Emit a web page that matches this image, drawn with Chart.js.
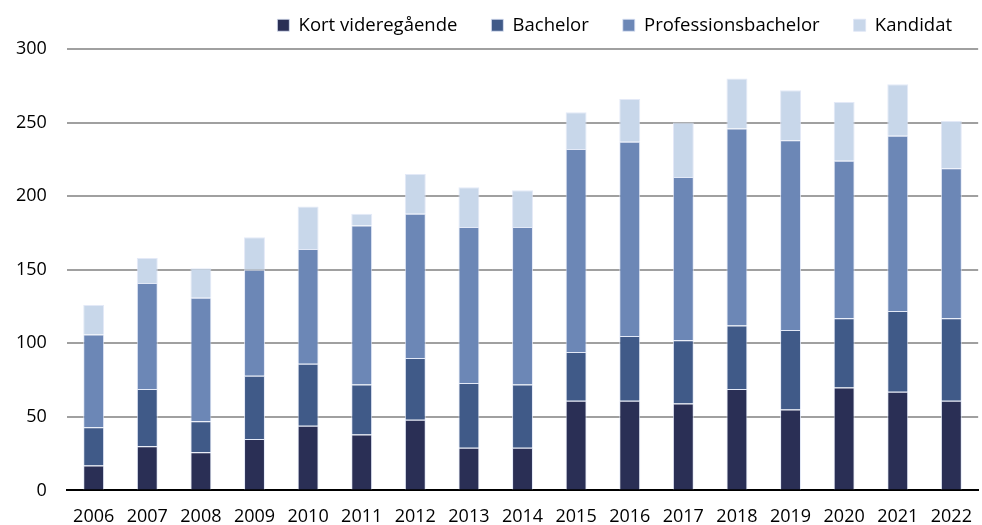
<!DOCTYPE html>
<html>
<head>
<meta charset="utf-8">
<script src="https://cdn.jsdelivr.net/npm/chart.js@4/dist/chart.umd.min.js"></script>
<style>
  html, body { margin: 0; padding: 0; background: #fff; overflow: hidden; }
  #wrap { position: relative; width: 988px; height: 547px; }
</style>
</head>
<body>
<div id="wrap"><canvas id="uddannelse"></canvas></div>
<script>
const years = ["2006","2007","2008","2009","2010","2011","2012","2013","2014","2015","2016","2017","2018","2019","2020","2021","2022"];
const kortVideregaaende = [17, 30, 26, 35, 44, 38, 48, 29, 29, 61, 61, 59, 69, 55, 70, 67, 61];
const bachelor = [26, 39, 21, 43, 42, 34, 42, 44, 43, 33, 44, 43, 43, 54, 47, 55, 56];
const professionsbachelor = [63, 72, 84, 72, 78, 108, 98, 106, 107, 138, 132, 111, 134, 129, 107, 119, 102];
const kandidat = [20, 17, 20, 22, 29, 8, 27, 27, 25, 25, 29, 37, 34, 34, 40, 35, 32];
const yTicks = [0, 50, 100, 150, 200, 250, 300];

const ctx = document.getElementById("uddannelse");

Chart.defaults.font.family = "'Open Sans', sans-serif";
Chart.defaults.font.size = 18;
Chart.defaults.color = "#000";

function serie(label, data, color) {
    return {
        label: label,
        data: data,
        backgroundColor: color,
        borderColor: "rgba(220, 228, 245, 0.8)",
        borderWidth: 1,
        barPercentage: 0.39,
        categoryPercentage: 1.0,
    };
}

// legenden skal ikke fylde så meget i højden
const legendHeight = {
    id: "legendHeight",
    beforeInit(chart) {
        const fit = chart.legend.fit;
        chart.legend.fit = function () {
            fit.bind(chart.legend)();
            this.height = 67;
        };
    },
};

var myChart = new Chart(ctx, {
    type: "bar",
    data: {
        labels: years,
        datasets: [
            serie("Kort videregående", kortVideregaaende, "#2a2f55"),
            serie("Bachelor", bachelor, "#405a88"),
            serie("Professionsbachelor", professionsbachelor, "#6c87b6"),
            serie("Kandidat", kandidat, "#c8d7ea"),
        ],
    },
    options: {
        responsive: true,
        maintainAspectRatio: false,
        animation: false,
        layout: { padding: { left: -4, right: 2, top: -18, bottom: 3 } },
        plugins: {
            tooltip: { enabled: false },
            legend: {
                position: "top",
                align: "end",
                labels: {
                    boxWidth: 12,
                    boxHeight: 12,
                    padding: 34,
                    color: "#000",
                    font: { size: 18.5 },
                },
            },
        },
        scales: {
            x: {
                stacked: true,
                grid: { display: false, drawTicks: false },
                border: { display: true, color: "#000", width: 2 },
                ticks: { padding: 16 },
            },
            y: {
                stacked: true,
                min: 0,
                max: 300,
                afterBuildTicks: (axis) => {
                    axis.ticks = yTicks.map((v) => ({ value: v }));
                },
                grid: {
                    drawTicks: false,
                    color: (c) => (c.tick && c.tick.value === 0 ? "#000" : "#a0a0a0"),
                    lineWidth: 2,
                },
                border: { display: false },
                ticks: { padding: 20 },
            },
        },
    },
    plugins: [legendHeight],
});
</script>
</body>
</html>
